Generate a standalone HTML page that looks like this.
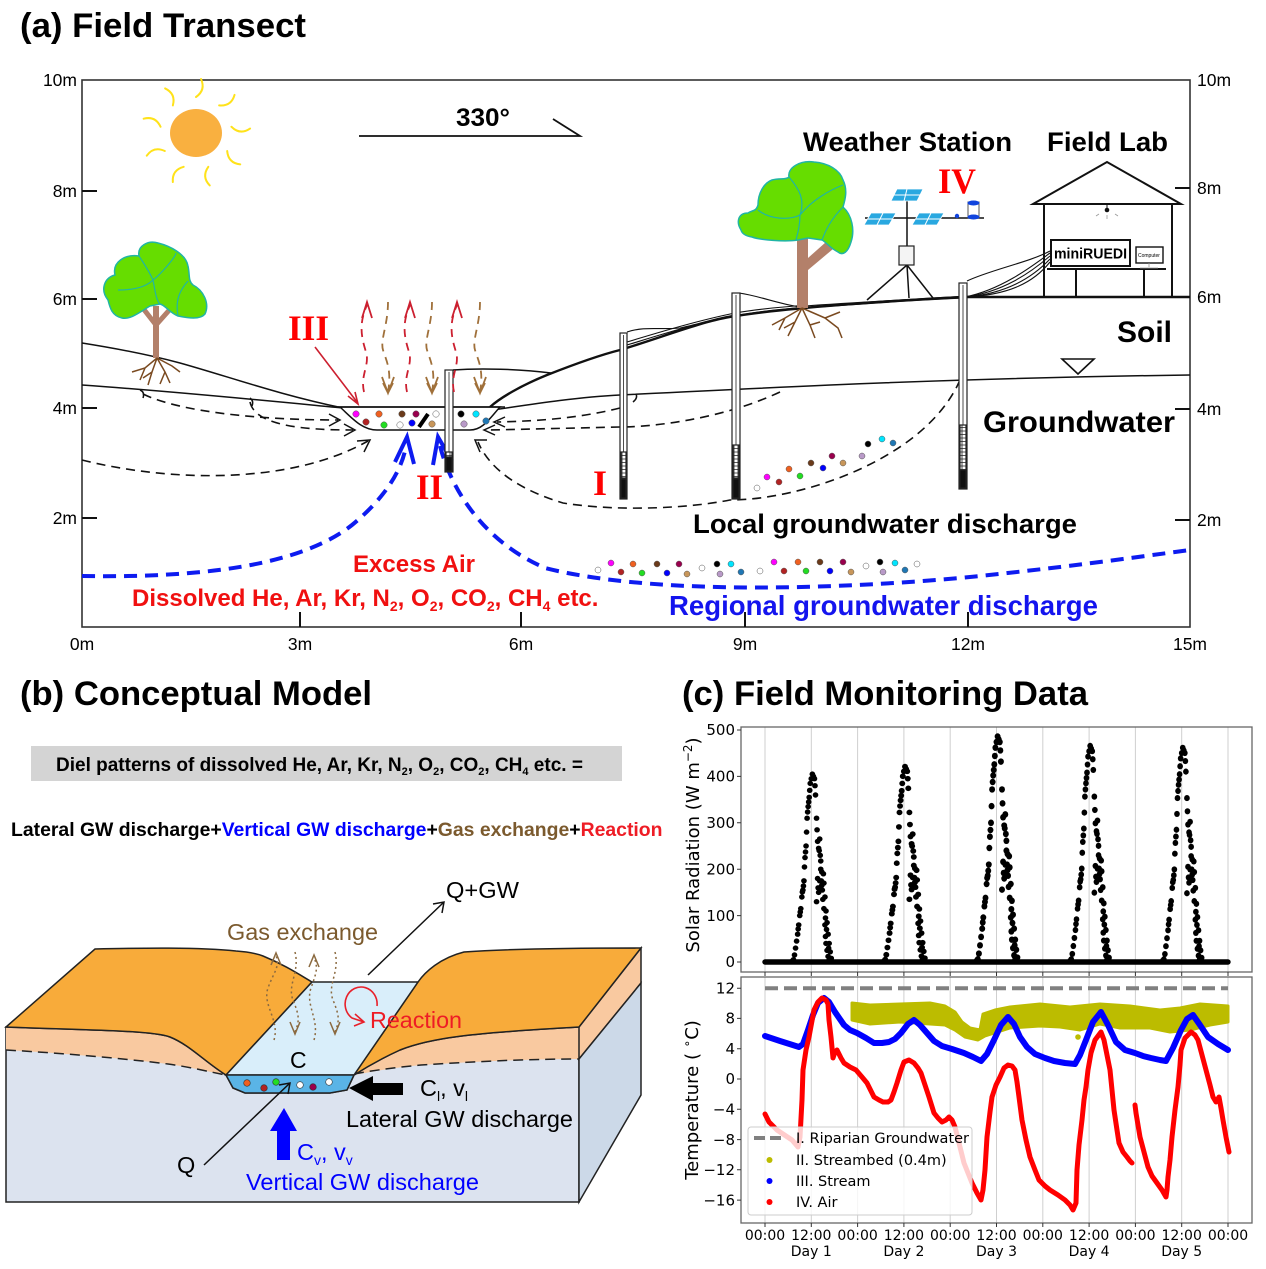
<!DOCTYPE html>
<html><head><meta charset="utf-8">
<style>
html,body{margin:0;padding:0;background:#fff;}
svg{display:block;}
text{font-family:"Liberation Sans",Arial,sans-serif;}
.dv,.dv text,text.dv{font-family:"DejaVu Sans","Liberation Sans",sans-serif;}
.sr{font-family:"Liberation Serif",serif;font-weight:bold;fill:#ff0000;}
</style></head><body>
<svg width="1266" height="1269" viewBox="0 0 1266 1269" xmlns="http://www.w3.org/2000/svg">
<defs>
<pattern id="grd" width="4" height="3.5" patternUnits="userSpaceOnUse"><rect width="4" height="3.5" fill="#fff"/><path d="M0,0.5H4M2,0V3.5" stroke="#222" stroke-width="0.8"/></pattern>
<g id="sd" fill="#000">
<circle cx="-17" cy="-2.3" r="2.7"/><circle cx="-16" cy="-7" r="2.7"/><circle cx="-15" cy="-13.9" r="2.7"/><circle cx="-14" cy="-20.9" r="2.7"/><circle cx="-13" cy="-27.8" r="2.7"/><circle cx="-12.5" cy="-33" r="2.7"/><circle cx="-12" cy="-37.1" r="2.7"/><circle cx="-11" cy="-46.4" r="2.7"/><circle cx="-10.5" cy="-50" r="2.7"/><circle cx="-10" cy="-53.4" r="2.7"/><circle cx="-9" cy="-65" r="2.7"/><circle cx="-8.5" cy="-70" r="2.7"/><circle cx="-8" cy="-71.9" r="2.7"/><circle cx="-7" cy="-81.2" r="2.7"/><circle cx="-6.5" cy="-95" r="2.7"/><circle cx="-6" cy="-104.4" r="2.7"/><circle cx="-5" cy="-116" r="2.7"/><circle cx="-4.5" cy="-129.9" r="2.7"/><circle cx="-4" cy="-143.8" r="2.7"/><circle cx="-3.5" cy="-150" r="2.7"/><circle cx="-3" cy="-155.4" r="2.7"/><circle cx="-2" cy="-164.7" r="2.7"/><circle cx="-1.5" cy="-171.7" r="2.7"/><circle cx="-1" cy="-178.6" r="2.7"/><circle cx="0" cy="-183.3" r="2.7"/><circle cx="1" cy="-187.9" r="2.7"/><circle cx="2" cy="-185.6" r="2.7"/><circle cx="3" cy="-183.3" r="2.7"/><circle cx="3.5" cy="-176.3" r="2.7"/>
<circle cx="-18" cy="-1" r="2.7"/><circle cx="-7.5" cy="-76" r="2.7"/><circle cx="-5.5" cy="-110" r="2.7"/><circle cx="-2.5" cy="-160" r="2.7"/>
<circle cx="4" cy="-167" r="2.7"/><circle cx="5" cy="-143.8" r="2.7"/><circle cx="5.5" cy="-132.2" r="2.7"/><circle cx="6" cy="-120.6" r="2.7"/><circle cx="7" cy="-113.7" r="2.7"/><circle cx="7.5" cy="-111.4" r="2.7"/><circle cx="8" cy="-123" r="2.7"/><circle cx="8.5" cy="-106.7" r="2.7"/><circle cx="9" cy="-92.8" r="2.7"/><circle cx="9.5" cy="-81.2" r="2.7"/><circle cx="10" cy="-76.6" r="2.7"/><circle cx="10.5" cy="-71.9" r="2.7"/><circle cx="11" cy="-62.6" r="2.7"/><circle cx="12" cy="-53.4" r="2.7"/><circle cx="13" cy="-37.1" r="2.7"/><circle cx="13.5" cy="-25.5" r="2.7"/><circle cx="14" cy="-18.6" r="2.7"/><circle cx="15" cy="-11.6" r="2.7"/><circle cx="16" cy="-5.6" r="2.7"/><circle cx="17" cy="-1.9" r="2.7"/><circle cx="6" cy="-83.5" r="2.7"/><circle cx="6.5" cy="-74.2" r="2.7"/><circle cx="5" cy="-60.3" r="2.7"/><circle cx="8" cy="-81.2" r="2.7"/><circle cx="7" cy="-69.6" r="2.7"/><circle cx="9" cy="-101" r="2.7"/><circle cx="10" cy="-90" r="2.7"/>
<circle cx="12" cy="-78.9" r="2.7"/><circle cx="13" cy="-65" r="2.7"/><circle cx="14" cy="-51" r="2.7"/><circle cx="15" cy="-39.4" r="2.7"/><circle cx="16" cy="-27.8" r="2.7"/><circle cx="17" cy="-18.6" r="2.7"/><circle cx="18" cy="-10.2" r="2.7"/><circle cx="19" cy="-3.7" r="2.7"/><circle cx="11.5" cy="-88.2" r="2.7"/><circle cx="13.5" cy="-44" r="2.7"/><circle cx="14.5" cy="-32.5" r="2.7"/><circle cx="16.5" cy="-13.9" r="2.7"/>
</g>
</defs>
<rect width="1266" height="1269" fill="#fff"/>

<!-- ================= (a) ================= -->
<text x="20" y="37" font-size="34" font-weight="bold" textLength="286" lengthAdjust="spacingAndGlyphs">(a) Field Transect</text>
<rect x="82" y="80" width="1108" height="547" fill="none" stroke="#333" stroke-width="1.6"/>
<g stroke="#111" stroke-width="2">
<path d="M82,191H97M82,299H97M82,408H97M82,518H97"/>
<path d="M1175,188H1190M1175,297H1190M1175,409H1190M1175,520H1190"/>
<path d="M300,612V627M521,612V627M745,612V627M968,612V627"/>
</g>
<g font-size="17.5" text-anchor="end">
<text x="77" y="86">10m</text><text x="77" y="197">8m</text><text x="77" y="305">6m</text><text x="77" y="414">4m</text><text x="77" y="524">2m</text>
</g>
<g font-size="17.5">
<text x="1197" y="86">10m</text><text x="1197" y="194">8m</text><text x="1197" y="303">6m</text><text x="1197" y="415">4m</text><text x="1197" y="526">2m</text>
</g>
<g font-size="17.5" text-anchor="middle">
<text x="82" y="650">0m</text><text x="300" y="650">3m</text><text x="521" y="650">6m</text><text x="745" y="650">9m</text><text x="968" y="650">12m</text><text x="1190" y="650">15m</text>
</g>

<!-- sun -->
<ellipse cx="196" cy="133" rx="26" ry="24" fill="#f9b040"/>
<g stroke="#ffe21a" stroke-width="2" fill="none" stroke-linecap="round">
<path d="M0,-36 Q10,-43 5,-54" transform="translate(196,133) rotate(0)"/>
<path d="M0,-36 Q10,-43 5,-54" transform="translate(196,133) rotate(40)"/>
<path d="M0,-36 Q10,-43 5,-54" transform="translate(196,133) rotate(80)"/>
<path d="M0,-36 Q10,-43 5,-54" transform="translate(196,133) rotate(120)"/>
<path d="M0,-36 Q10,-43 5,-54" transform="translate(196,133) rotate(160)"/>
<path d="M0,-36 Q10,-43 5,-54" transform="translate(196,133) rotate(200)"/>
<path d="M0,-36 Q10,-43 5,-54" transform="translate(196,133) rotate(240)"/>
<path d="M0,-36 Q10,-43 5,-54" transform="translate(196,133) rotate(280)"/>
<path d="M0,-36 Q10,-43 5,-54" transform="translate(196,133) rotate(320)"/>
</g>

<!-- 330 arrow -->
<text x="456" y="126" font-size="25" font-weight="bold" textLength="54" lengthAdjust="spacingAndGlyphs">330°</text>
<path d="M359,136H580L553,119" fill="none" stroke="#111" stroke-width="1.8"/>

<!-- black dashed flow lines -->
<g fill="none" stroke="#111" stroke-width="1.6" stroke-dasharray="9 6">
<path d="M143,394 C180,412 260,420 338,420"/>
<path d="M250,402 C255,425 300,430 353,430"/>
<path d="M82,460 C170,482 290,485 368,441"/>
<path d="M620,408 C580,418 540,421 497,422"/>
<path d="M780,392 C720,420 650,427 620,427 L490,430"/>
<path d="M960,380 C925,460 800,500 730,500 C690,508 620,512 563,503 C520,490 490,470 478,442"/>
</g>
<g fill="none" stroke="#111" stroke-width="1.5">
<path d="M329,414 L340,420 L329,426"/>
<path d="M344,424 L355,430 L344,436"/>
<path d="M357,441 L370,440 L364,452"/>
<path d="M505,417 L494,422 L505,427"/>
<path d="M495,425 L484,430 L495,435"/>
<path d="M487,440 L475,440 L480,452"/>
<path d="M140,390 q5,2 3,8 M250,398 q4,3 2,8 M636,394 q2,4 -3,8"/>
</g>

<!-- blue dashed -->
<g fill="none" stroke="#0d1bf0" stroke-width="4" stroke-dasharray="13 8">
<path d="M82,576 C200,578 300,566 352,525 C385,498 402,470 406,446"/>
<path d="M440,446 C450,485 480,540 545,568 C640,592 800,592 960,578 C1060,568 1130,558 1190,550"/>
</g>
<g fill="none" stroke="#0d1bf0" stroke-width="4" stroke-linejoin="miter">
<path d="M395,462 L407,437 L414,464"/>
<path d="M433,465 L438,437 L452,461"/>
</g>

<!-- ground lines -->
<g fill="none" stroke="#111" stroke-width="1.5">
<path d="M82,343 C120,349 150,355 180,363 C230,377 280,395 343,408"/>
<path d="M82,385 C180,392 280,402 343,408"/>
<path d="M453,370 C480,368 520,369 551,373"/>
<path d="M493,410 C540,403 580,397 620,395 C800,386 960,378 1190,375"/>
</g>
<path d="M490,407 C500,398 520,386 547,375 C580,362 600,355 620,350 C660,338 700,322 730,317 C780,308 900,300 965,297 L1190,297" fill="none" stroke="#111" stroke-width="2.4"/>
<!-- cables -->
<g fill="none" stroke="#111" stroke-width="1.1">
<path d="M627,332 C645,326 660,330 680,328 C700,324 715,318 735,315"/>
<path d="M627,345 C660,335 700,322 735,316 C770,309 790,309 805,307"/>
<path d="M627,342 C660,332 700,320 735,313 C770,307 790,307 805,305"/>
<path d="M739,293 C760,296 775,303 800,307"/>
<path d="M805,306 C860,302 920,299 965,296"/>
<path d="M805,308 C860,304 920,300 965,298"/>
<path d="M967,281 C990,270 1030,262 1050,251"/>
<path d="M965,297 C1000,290 1030,268 1050,253"/>
<path d="M965,297 C1003,292 1030,273 1050,256"/>
<path d="M965,297 C1006,294 1032,278 1050,259"/>
<path d="M965,297 C1010,295 1034,282 1050,262"/>
</g>

<!-- stream channel -->
<path d="M340,407 C352,418 362,430 377,430 L470,430 C483,430 490,418 500,407 Z" fill="#fff" stroke="#111" stroke-width="1.5"/>
<path d="M338,407 H505" stroke="#111" stroke-width="1.5"/>
<!-- stream dots -->
<g stroke="#555" stroke-width="0.5">
<circle cx="356" cy="414" r="3.2" fill="#ff00ff"/><circle cx="379" cy="414" r="3.2" fill="#f06020"/><circle cx="402" cy="414" r="3.2" fill="#6b3a1a"/><circle cx="416" cy="414" r="3.2" fill="#99004d"/><circle cx="436" cy="414" r="3.2" fill="#fff"/><circle cx="461" cy="414" r="3.2" fill="#000"/><circle cx="476" cy="414" r="3.2" fill="#00e5ff"/>
<circle cx="366" cy="422" r="3.2" fill="#b22222"/><circle cx="384" cy="425" r="3.2" fill="#22dd22"/><circle cx="400" cy="425" r="3.2" fill="#fff"/><circle cx="412" cy="423" r="3.2" fill="#0000ff"/><circle cx="432" cy="424" r="3.2" fill="#c8965a"/><circle cx="464" cy="424" r="3.2" fill="#b99ac8"/><circle cx="486" cy="421" r="3.2" fill="#1f77b4"/>
</g>
<path d="M419,427 L428,414" stroke="#000" stroke-width="4"/>

<!-- piezometers -->
<g stroke="#222" stroke-width="1.2">
<rect x="620" y="333" width="7" height="166" fill="#fff"/><rect x="621" y="452" width="5" height="26" fill="url(#grd)"/><rect x="621" y="479" width="5" height="19" fill="#111"/>
<rect x="732" y="293" width="8" height="206" fill="#fff"/><rect x="733" y="445" width="6" height="33" fill="url(#grd)"/><rect x="733" y="479" width="6" height="19" fill="#111"/>
<rect x="959" y="283" width="8" height="206" fill="#fff"/><rect x="960" y="425" width="6" height="45" fill="url(#grd)"/><rect x="960" y="470" width="6" height="18" fill="#111"/>
<rect x="445" y="370" width="8" height="102" fill="#fff"/><rect x="446" y="452" width="6" height="5" fill="url(#grd)"/><rect x="446" y="457" width="6" height="14" fill="#111"/>
</g>
<g stroke="#222" stroke-width="0.8"><path d="M623.5,335V452M736,295V445M963,285V425M449,372V452"/></g>

<!-- gas arrows (a) -->
<g fill="none" stroke="#cc2030" stroke-width="1.8">
<path d="M364,392 C360,375 370,365 366,352 S358,325 367,305" stroke-dasharray="8 6"/>
<path d="M407,392 C403,375 413,365 409,352 S401,325 410,305" stroke-dasharray="8 6"/>
<path d="M454,392 C450,375 460,365 456,352 S448,325 457,305" stroke-dasharray="8 6"/>
<path d="M362,318 L367,302 L372,318 M405,318 L410,302 L415,318 M452,318 L457,302 L462,318"/>
</g>
<g fill="none" stroke="#a0703a" stroke-width="1.8">
<path d="M388,302 C388,325 380,340 383,350 S392,370 388,392" stroke-dasharray="8 6"/>
<path d="M432,302 C432,325 424,340 427,350 S436,370 432,392" stroke-dasharray="8 6"/>
<path d="M480,302 C480,325 472,340 475,350 S484,370 480,392" stroke-dasharray="8 6"/>
<path d="M382,377 L388,393 L394,377 M383,383 L388,393 L393,383 M426,377 L432,393 L438,377 M427,383 L432,393 L437,383 M474,377 L480,393 L486,377 M475,383 L480,393 L485,383"/>
</g>
<path d="M315,347 L357,402 M348,396 L358,404 L355,392" fill="none" stroke="#cc2030" stroke-width="1.6"/>

<!-- trees -->
<g>
<path d="M156,358 L156,306" stroke="#b3806a" stroke-width="6"/>
<path d="M156,325 L142,307 M156,325 L172,307" stroke="#b3806a" stroke-width="5"/>
<g fill="none" stroke="#7a4a20" stroke-width="1.5">
<path d="M157,358 L145,368 L132,372 M145,368 L140,380 M157,358 L152,372 L148,385 M152,372 L143,378 M157,358 L165,372 L170,383 M157,358 L172,366 L180,372 M165,372 L160,384"/>
</g>
<path d="M108,300 C100,290 104,278 115,275 C112,262 125,254 139,256 C137,246 148,240 158,243 C170,246 186,254 188,266 C190,275 188,281 193,285 C203,290 210,303 205,314 C200,320 188,318 178,316 C170,313 165,305 160,304 L150,306 C140,312 130,320 122,318 C112,316 110,308 108,300 Z" fill="#66dd00" stroke="#20b5a5" stroke-width="1.5"/>
<path d="M139,256 C145,265 150,273 153,280 M153,280 C160,275 175,258 176,253 M153,280 C145,288 130,290 118,290 M153,280 C155,290 156,300 160,304 M188,281 C180,290 175,300 178,316" fill="none" stroke="#20b5a5" stroke-width="1.2"/>
</g>
<g>
<rect x="797" y="238" width="11" height="70" fill="#b3806a"/>
<path d="M808,258 L826,242 L833,249 L808,270 Z" fill="#b3806a"/>
<g fill="none" stroke="#7a4a20" stroke-width="1.5">
<path d="M802,308 L785,318 L772,325 M785,318 L779,330 M802,308 L795,322 L788,336 M802,308 L810,325 L815,338 M802,308 L825,318 L840,312 M825,318 L838,328 L842,338 M810,325 L820,322 M795,322 L784,328"/>
</g>
<path d="M741,230 C736,222 738,213 748,213 C752,210 756,212 758,205 C758,193 764,183 772,180 C780,178 786,180 789,177 C787,168 800,160 814,162 C828,163 840,170 843,180 C848,190 845,200 843,207 C852,215 855,230 851,242 C848,252 843,256 838,252 C830,248 826,242 822,240 L808,238 L798,240 C785,242 760,240 752,237 C746,236 742,234 741,230 Z" fill="#66dd00" stroke="#20b5a5" stroke-width="1.5"/>
<path d="M789,177 C800,190 805,200 800,215 M800,215 C812,200 830,190 843,185 M800,215 C790,220 770,220 758,210 M800,215 C800,225 798,232 796,240 M843,207 C830,220 825,232 822,240" fill="none" stroke="#20b5a5" stroke-width="1.2"/>
</g>

<!-- weather station -->
<g fill="none" stroke="#111" stroke-width="1.5">
<path d="M867,300 L907,265 L933,298 M907,265 L909,298"/>
<path d="M907,246 V197 M865,218 H984"/>
</g>
<rect x="899" y="246" width="15" height="19" fill="#f4f4f4" stroke="#222" stroke-width="1.2"/>
<g fill="#29a8e0" stroke="#fff" stroke-width="0.8">
<polygon points="897,189 923,189 917,201 891,201"/>
<polygon points="871,213 896,213 889,225 864,225"/>
<polygon points="919,213 944,213 937,225 912,225"/>
</g>
<g stroke="#fff" stroke-width="1"><path d="M894,195H920M907,189L904,201M868,219H893M883,213L877,225M916,219H941M931,213L925,225"/></g>
<rect x="968" y="202" width="11" height="16" fill="#fff" stroke="#555" stroke-width="1"/>
<ellipse cx="973.5" cy="203" rx="6" ry="2.5" fill="#1144dd"/><ellipse cx="973.5" cy="217" rx="6" ry="2.5" fill="#1144dd"/>
<circle cx="957" cy="216" r="2.2" fill="#1144dd"/>

<!-- field lab -->
<g fill="none" stroke="#111" stroke-width="2">
<polygon points="1033,204 1107,162 1181,204"/>
<path d="M1044,204V297M1172,204V297"/>
<path d="M1047,269H1166M1076,269V297M1144,269V297"/>
</g>
<path d="M1107,204V210" stroke="#111" stroke-width="1"/><circle cx="1107" cy="210" r="2.3" fill="#111"/>
<path d="M1099,214l-3,2M1115,214l3,2M1107,215v4" stroke="#999" stroke-width="0.8"/>
<rect x="1051" y="240" width="79" height="26" fill="#fff" stroke="#111" stroke-width="2"/>
<text x="1054" y="258.5" font-size="14.5" font-weight="bold" textLength="73" lengthAdjust="spacingAndGlyphs">miniRUEDI</text>
<rect x="1136" y="247" width="27" height="16" fill="#fff" stroke="#111" stroke-width="1.4"/>
<text x="1138" y="257" font-size="5">Computer</text>
<path d="M1149,263V267M1140,268H1158" stroke="#999" stroke-width="0.8"/>

<!-- water table symbol -->
<polygon points="1062,359 1094,359 1078,374" fill="#fff" stroke="#111" stroke-width="1.6"/>

<!-- dots local -->
<g stroke="#555" stroke-width="0.5">
<circle cx="757" cy="488" r="3" fill="#fff"/><circle cx="767" cy="477" r="3" fill="#ff00ff"/><circle cx="779" cy="482" r="3" fill="#b22222"/><circle cx="789" cy="469" r="3" fill="#f06020"/><circle cx="800" cy="476" r="3" fill="#22dd22"/><circle cx="811" cy="463" r="3" fill="#6b3a1a"/><circle cx="823" cy="468" r="3" fill="#0000ff"/><circle cx="832" cy="456" r="3" fill="#99004d"/><circle cx="843" cy="463" r="3" fill="#c8965a"/><circle cx="862" cy="456" r="3" fill="#b99ac8"/><circle cx="868" cy="444" r="3" fill="#000"/><circle cx="882" cy="439" r="3" fill="#00e5ff"/><circle cx="893" cy="443" r="3" fill="#1f77b4"/>
<circle cx="598" cy="570" r="3" fill="#fff"/><circle cx="611" cy="563" r="3" fill="#ff00ff"/><circle cx="621" cy="572" r="3" fill="#b22222"/><circle cx="633" cy="564" r="3" fill="#f06020"/><circle cx="642" cy="573" r="3" fill="#22dd22"/><circle cx="657" cy="564" r="3" fill="#6b3a1a"/><circle cx="667" cy="573" r="3" fill="#0000ff"/><circle cx="679" cy="564" r="3" fill="#99004d"/><circle cx="687" cy="574" r="3" fill="#c8965a"/><circle cx="702" cy="568" r="3" fill="#fff"/><circle cx="717" cy="564" r="3" fill="#000"/><circle cx="720" cy="574" r="3" fill="#b99ac8"/><circle cx="731" cy="564" r="3" fill="#00e5ff"/><circle cx="741" cy="572" r="3" fill="#1f77b4"/><circle cx="760" cy="571" r="3" fill="#fff"/><circle cx="774" cy="562" r="3" fill="#ff00ff"/><circle cx="784" cy="571" r="3" fill="#b22222"/><circle cx="798" cy="562" r="3" fill="#f06020"/><circle cx="806" cy="571" r="3" fill="#22dd22"/><circle cx="820" cy="562" r="3" fill="#6b3a1a"/><circle cx="830" cy="571" r="3" fill="#0000ff"/><circle cx="843" cy="562" r="3" fill="#99004d"/><circle cx="851" cy="572" r="3" fill="#c8965a"/><circle cx="866" cy="566" r="3" fill="#fff"/><circle cx="880" cy="562" r="3" fill="#000"/><circle cx="883" cy="572" r="3" fill="#b99ac8"/><circle cx="895" cy="563" r="3" fill="#00e5ff"/><circle cx="905" cy="570" r="3" fill="#1f77b4"/><circle cx="917" cy="564" r="3" fill="#fff"/>
</g>

<!-- labels (a) -->
<text x="803" y="151" font-size="27" font-weight="bold" textLength="209" lengthAdjust="spacingAndGlyphs">Weather Station</text>
<text x="1047" y="151" font-size="27" font-weight="bold" textLength="121" lengthAdjust="spacingAndGlyphs">Field Lab</text>
<text x="1117" y="342" font-size="30" font-weight="bold" textLength="55" lengthAdjust="spacingAndGlyphs">Soil</text>
<text x="983" y="432" font-size="30" font-weight="bold" textLength="192" lengthAdjust="spacingAndGlyphs">Groundwater</text>
<text x="693" y="533" font-size="27" font-weight="bold" textLength="384" lengthAdjust="spacingAndGlyphs">Local groundwater discharge</text>
<text x="669" y="615" font-size="27.5" font-weight="bold" fill="#1414ee" textLength="429" lengthAdjust="spacingAndGlyphs">Regional groundwater discharge</text>
<text x="353" y="572" font-size="24" font-weight="bold" fill="#f01010" textLength="122" lengthAdjust="spacingAndGlyphs">Excess Air</text>
<text x="132" y="606" font-size="24" font-weight="bold" fill="#f01010">Dissolved He, Ar, Kr, N<tspan font-size="14" dy="5">2</tspan><tspan dy="-5">, O</tspan><tspan font-size="14" dy="5">2</tspan><tspan dy="-5">, CO</tspan><tspan font-size="14" dy="5">2</tspan><tspan dy="-5">, CH</tspan><tspan font-size="14" dy="5">4</tspan><tspan dy="-5"> etc.</tspan></text>
<text class="sr" x="288" y="340" font-size="36" textLength="41" lengthAdjust="spacingAndGlyphs">III</text>
<text class="sr" x="416" y="499" font-size="36" textLength="27" lengthAdjust="spacingAndGlyphs">II</text>
<text class="sr" x="593" y="495" font-size="36">I</text>
<text class="sr" x="938" y="193" font-size="36" textLength="38" lengthAdjust="spacingAndGlyphs">IV</text>

<!-- ================= (b) ================= -->
<text x="20" y="705" font-size="34" font-weight="bold" textLength="352" lengthAdjust="spacingAndGlyphs">(b) Conceptual Model</text>
<rect x="31" y="746" width="591" height="35" fill="#d4d4d4"/>
<text x="56" y="771" font-size="19" font-weight="bold">Diel patterns of dissolved He, Ar, Kr, N<tspan font-size="11" dy="4">2</tspan><tspan dy="-4">, O</tspan><tspan font-size="11" dy="4">2</tspan><tspan dy="-4">, CO</tspan><tspan font-size="11" dy="4">2</tspan><tspan dy="-4">, CH</tspan><tspan font-size="11" dy="4">4</tspan><tspan dy="-4"> etc. =</tspan></text>
<text x="11" y="836" font-size="19.4" font-weight="bold">Lateral GW discharge+<tspan fill="#0000ff">Vertical GW discharge</tspan>+<tspan fill="#7b5a2e">Gas exchange</tspan>+<tspan fill="#ee1c25">Reaction</tspan></text>

<!-- block diagram -->
<path d="M6,1027 C80,1030 150,1030 170,1037 C190,1045 205,1062 226,1075 L233,1088 L245,1093 L330,1093 L347,1090 L354,1075 C365,1068 378,1060 400,1050 C430,1038 470,1033 579,1027 L579,1202 L6,1202 Z" fill="#dce3ef" stroke="#222" stroke-width="1.5"/>
<path d="M6,1027 C80,1030 150,1030 170,1037 C190,1045 205,1062 226,1075 C210,1072 190,1067 168,1064 C120,1058 60,1053 6,1050 Z" fill="#f9c9a0" stroke="none"/>
<path d="M354,1075 C365,1068 378,1060 400,1050 C430,1038 470,1033 579,1027 L579,1059 C520,1059 470,1062 421,1065 C390,1068 370,1072 354,1075 Z" fill="#f9c9a0" stroke="none"/>
<path d="M6,1050 C60,1053 120,1058 168,1064 C190,1067 210,1072 226,1075 M354,1074 C370,1071 390,1068 421,1065 C470,1062 520,1059 579,1059" fill="none" stroke="#222" stroke-width="1.5" stroke-dasharray="10 6"/>
<path d="M6,1027 C80,1030 150,1030 170,1037 C190,1045 205,1062 226,1075 M354,1075 C365,1068 378,1060 400,1050 C430,1038 470,1033 579,1027" fill="none" stroke="#222" stroke-width="1.5"/>
<polygon points="579,1027 641,948 641,983 579,1059" fill="#f9c9a0" stroke="#222" stroke-width="1.5"/>
<polygon points="579,1059 641,983 641,1095 579,1202" fill="#ccd9e8" stroke="#222" stroke-width="1.5"/>
<path d="M6,1027 L95,949 C140,948 200,947 236,951 C250,952 258,954 263,956 C285,965 300,975 312,982 L226,1075 C205,1062 190,1045 170,1037 C150,1030 80,1030 6,1027 Z" fill="#f8ab3a" stroke="#222" stroke-width="1.5"/>
<path d="M418,982 C425,972 440,958 464,952 C520,948 600,948 641,948 L579,1027 C470,1033 430,1038 400,1050 C378,1060 365,1068 354,1075 Z" fill="#f8ab3a" stroke="#222" stroke-width="1.5"/>
<polygon points="312,982 418,982 354,1075 226,1075" fill="#d9eefa" stroke="#222" stroke-width="1.5"/>
<path d="M226,1075 L354,1075 L347,1090 L330,1093 L245,1093 L233,1088 Z" fill="#5ab4e6" stroke="#222" stroke-width="1.5"/>
<g stroke="#333" stroke-width="0.6">
<circle cx="247" cy="1083" r="3.3" fill="#f06020"/><circle cx="264" cy="1088" r="3.3" fill="#b22222"/><circle cx="276" cy="1082" r="3.3" fill="#22dd22"/><circle cx="300" cy="1085" r="3.3" fill="#fff"/><circle cx="313" cy="1087" r="3.3" fill="#99004d"/><circle cx="329" cy="1082" r="3.3" fill="#fff"/>
</g>
<!-- gas exchange arrows (b) -->
<g fill="none" stroke="#8b6a40" stroke-width="1.5">
<path d="M274,1040 C280,1020 262,1005 268,988 S280,968 276,955" stroke-dasharray="2 3"/>
<path d="M295,952 C300,972 287,985 293,1000 S300,1020 295,1032" stroke-dasharray="2 3"/>
<path d="M314,1040 C320,1020 305,1005 311,988 S318,968 314,957" stroke-dasharray="2 3"/>
<path d="M335,952 C340,972 327,985 333,1000 S340,1020 335,1032" stroke-dasharray="2 3"/>
<path d="M271,965 L276,953 L281,965 M309,967 L314,955 L319,967 M290,1022 L295,1034 L300,1022 M330,1022 L335,1034 L340,1022"/>
</g>
<text x="227" y="940" font-size="23.5" fill="#7b5a2e" textLength="151" lengthAdjust="spacingAndGlyphs">Gas exchange</text>
<!-- reaction -->
<path d="M377,1006 A16,17 0 1 0 352,1018 L364,1022" fill="none" stroke="#e8202a" stroke-width="1.6"/>
<path d="M355,1014 L364,1022 L354,1026" fill="none" stroke="#e8202a" stroke-width="1.6"/>
<text x="370" y="1028" font-size="23.5" fill="#ee1c25" textLength="92" lengthAdjust="spacingAndGlyphs">Reaction</text>
<text x="290" y="1068" font-size="23">C</text>
<!-- Q+GW -->
<path d="M368,975 L444,902 M433,904 L444,902 L442,913" fill="none" stroke="#111" stroke-width="1.5"/>
<text x="446" y="898" font-size="23.5" textLength="73" lengthAdjust="spacingAndGlyphs">Q+GW</text>
<path d="M204,1165 L290,1083 M279,1085 L290,1083 L288,1094" fill="none" stroke="#111" stroke-width="1.5"/>
<text x="177" y="1173" font-size="23.5">Q</text>
<!-- lateral arrow -->
<polygon points="349,1088 373,1076 373,1083 403,1083 403,1095 373,1095 373,1101" fill="#000"/>
<text x="420" y="1096" font-size="23.5">C<tspan font-size="14" dy="5">l</tspan><tspan dy="-5">, v</tspan><tspan font-size="14" dy="5">l</tspan></text>
<text x="346" y="1127" font-size="23.5" textLength="227" lengthAdjust="spacingAndGlyphs">Lateral GW discharge</text>
<!-- vertical arrow -->
<polygon points="284,1108 297,1131 290,1131 290,1160 277,1160 277,1131 270,1131" fill="#0000ff"/>
<text x="297" y="1160" font-size="23.5" fill="#0000ff">C<tspan font-size="14" dy="5">v</tspan><tspan dy="-5">, v</tspan><tspan font-size="14" dy="5">v</tspan></text>
<text x="246" y="1190" font-size="23.5" fill="#0000ff" textLength="233" lengthAdjust="spacingAndGlyphs">Vertical GW discharge</text>

<!-- ================= (c) ================= -->
<text x="682" y="705" font-size="34" font-weight="bold" textLength="406" lengthAdjust="spacingAndGlyphs">(c) Field Monitoring Data</text>

<!-- top plot -->
<g stroke="#cfcfcf" stroke-width="1">
<path d="M765,727V972M811.3,727V972M857.6,727V972M903.9,727V972M950.2,727V972M996.5,727V972M1042.8,727V972M1089.1,727V972M1135.4,727V972M1181.7,727V972M1228,727V972"/>
<path d="M765,977V1223M811.3,977V1223M857.6,977V1223M903.9,977V1223M950.2,977V1223M996.5,977V1223M1042.8,977V1223M1089.1,977V1223M1135.4,977V1223M1181.7,977V1223M1228,977V1223"/>
</g>
<line x1="765" y1="962" x2="1228" y2="962" stroke="#000" stroke-width="5.4" stroke-linecap="round"/>
<use href="#sd" transform="translate(811.3,962) scale(1.05,1)"/>
<use href="#sd" transform="translate(903.9,962) scale(1.1,1.04)"/>
<use href="#sd" transform="translate(996.5,962) scale(1.1,1.2)"/>
<use href="#sd" transform="translate(1089.1,962) scale(1.05,1.15)"/>
<use href="#sd" transform="translate(1181.7,962) scale(1.05,1.14)"/>
<rect x="741" y="727" width="511" height="245" fill="none" stroke="#666" stroke-width="1.3"/>
<g stroke="#333" stroke-width="1">
<path d="M737,730H741M737,776.4H741M737,822.8H741M737,869.2H741M737,915.6H741M737,962H741"/>
<path d="M765,972V976M811.3,972V976M857.6,972V976M903.9,972V976M950.2,972V976M996.5,972V976M1042.8,972V976M1089.1,972V976M1135.4,972V976M1181.7,972V976M1228,972V976"/>
</g>
<g class="dv" font-size="15" text-anchor="end">
<text x="735" y="735">500</text><text x="735" y="781.5">400</text><text x="735" y="828">300</text><text x="735" y="874.5">200</text><text x="735" y="921">100</text><text x="735" y="967">0</text>
</g>
<text class="dv" font-size="18" text-anchor="middle" transform="translate(699,845) rotate(-90)">Solar Radiation (W m<tspan font-size="12" dy="-7">−2</tspan><tspan dy="7">)</tspan></text>

<!-- bottom plot -->
<path d="M765,988.2H1228" stroke="#808080" stroke-width="4" stroke-dasharray="13 6"/>
<polygon points="852,1003 870,1005 900,1004 930,1003 945,1006 955,1012 962,1022 970,1028 980,1030 983,1014 995,1010 1010,1007 1040,1004 1070,1007 1100,1004 1130,1006 1160,1010 1180,1008 1200,1004 1228,1006 1228,1022 1210,1025 1190,1030 1170,1032 1150,1028 1120,1028 1100,1024 1080,1030 1060,1027 1040,1026 1010,1028 985,1036 978,1040 965,1037 955,1030 945,1025 930,1024 900,1022 870,1024 852,1020" fill="#bcbc00" stroke="#bcbc00" stroke-width="3" stroke-linejoin="round"/>
<circle cx="1078" cy="1037" r="2.8" fill="#bcbc00"/>
<polyline fill="none" stroke="#0000ff" stroke-width="6" stroke-linejoin="round" stroke-linecap="round" points="765,1036 780,1041 799,1047 803,1044 808,1030 813,1015 818,1003 824,998 829,1002 835,1012 844,1025 850,1030 857,1033 866,1038 874,1043 882,1043 889,1042 895,1039 901,1033 908,1024 914,1020 920,1025 927,1033 934,1041 942,1046 952,1049 964,1053 973,1057 981,1061 987,1054 994,1040 1001,1025 1008,1017 1014,1024 1020,1037 1027,1047 1035,1054 1045,1058 1054,1061 1065,1063 1075,1064 1080,1055 1086,1040 1093,1022 1101,1012 1108,1025 1116,1042 1125,1050 1135,1053 1143,1056 1151,1058 1160,1060 1166,1061 1173,1048 1181,1030 1187,1019 1193,1015 1200,1025 1208,1037 1218,1044 1228,1050"/>
<g fill="none" stroke="#ff0000" stroke-width="5" stroke-linejoin="round" stroke-linecap="round">
<polyline points="765,1114 769,1122 777,1130 786,1136 792,1140 798,1147 800,1137 802,1100 803,1070 806,1050 809,1037 814,1010 818,1002 822,998 826,1000 828,1004 829,1020 831,1037 833,1058 835,1052 837,1050 841,1058 844,1063 850,1067 856,1070 862,1077 867,1083 874,1097 879,1100 883,1102 888,1102 891,1100 894,1092 897,1083 901,1070 904,1062 909,1060 914,1063 918,1068 921,1073 925,1085 929,1097 934,1113 938,1118 942,1122 946,1120 949,1117 952,1120 955,1127 959,1143 964,1163 968,1173 972,1183 977,1193 981,1200 983,1190 985,1170 987,1137 990,1112 992,1097 996,1085 1000,1077 1004,1068 1008,1065 1012,1066 1015,1070 1017,1082 1019,1097 1022,1120 1026,1140 1030,1157 1035,1170 1039,1180 1045,1186 1050,1190 1058,1195 1065,1200 1070,1205 1073,1210 1076,1203 1077,1170 1079,1145 1082,1120 1084,1100 1086,1087 1088,1070 1091,1053 1095,1040 1101,1032 1104,1040 1106,1050 1108,1060 1110,1070 1112,1090 1114,1110 1117,1130 1119,1143 1123,1152 1127,1157 1130,1161 1132,1163"/>
<polyline points="1135,1105 1136,1113 1138,1125 1140,1137 1144,1152 1148,1167 1152,1176 1157,1183 1162,1190 1166,1197 1167,1190 1168,1177 1170,1160 1172,1137 1175,1110 1178,1087 1180,1065 1181,1050 1185,1038 1191,1032 1195,1035 1198,1040 1202,1055 1206,1070 1210,1085 1213,1097 1216,1102 1219,1097 1221,1108 1223,1120 1226,1137 1229,1152"/>
</g>
<!-- legend -->
<rect x="748" y="1127" width="224" height="88" rx="3" fill="#fff" fill-opacity="0.8" stroke="#cccccc" stroke-width="1"/>
<path d="M754,1138H782" stroke="#808080" stroke-width="4" stroke-dasharray="11 5"/>
<circle cx="769.5" cy="1160" r="3" fill="#bcbc00"/>
<circle cx="769.5" cy="1181" r="3" fill="#0000ff"/>
<circle cx="769.5" cy="1202" r="3" fill="#ff0000"/>
<g class="dv" font-size="14.5">
<text x="796" y="1143">I. Riparian Groundwater</text>
<text x="796" y="1165">II. Streambed (0.4m)</text>
<text x="796" y="1186">III. Stream</text>
<text x="796" y="1207">IV. Air</text>
</g>
<rect x="741" y="977" width="511" height="246" fill="none" stroke="#666" stroke-width="1.3"/>
<g stroke="#333" stroke-width="1">
<path d="M737,988.2H741M737,1018.4H741M737,1048.7H741M737,1079H741M737,1109.3H741M737,1139.6H741M737,1169.8H741M737,1200.1H741"/>
<path d="M765,1223V1227M811.3,1223V1227M857.6,1223V1227M903.9,1223V1227M950.2,1223V1227M996.5,1223V1227M1042.8,1223V1227M1089.1,1223V1227M1135.4,1223V1227M1181.7,1223V1227M1228,1223V1227"/>
</g>
<g class="dv" font-size="15" text-anchor="end">
<text x="735" y="993.5">12</text><text x="735" y="1023.5">8</text><text x="735" y="1054">4</text><text x="735" y="1084">0</text><text x="735" y="1114.5">−4</text><text x="735" y="1145">−8</text><text x="735" y="1175">−12</text><text x="735" y="1205.5">−16</text>
</g>
<text class="dv" font-size="18" text-anchor="middle" transform="translate(698,1100) rotate(-90)">Temperature ( <tspan font-size="12" dy="-7">∘</tspan><tspan dy="7">C)</tspan></text>
<g class="dv" font-size="14" text-anchor="middle">
<text x="765" y="1240">00:00</text><text x="811.3" y="1240">12:00</text><text x="857.6" y="1240">00:00</text><text x="903.9" y="1240">12:00</text><text x="950.2" y="1240">00:00</text><text x="996.5" y="1240">12:00</text><text x="1042.8" y="1240">00:00</text><text x="1089.1" y="1240">12:00</text><text x="1135.4" y="1240">00:00</text><text x="1181.7" y="1240">12:00</text><text x="1228" y="1240">00:00</text>
<text x="811.3" y="1256">Day 1</text><text x="903.9" y="1256">Day 2</text><text x="996.5" y="1256">Day 3</text><text x="1089.1" y="1256">Day 4</text><text x="1181.7" y="1256">Day 5</text>
</g>
</svg>
</body></html>
